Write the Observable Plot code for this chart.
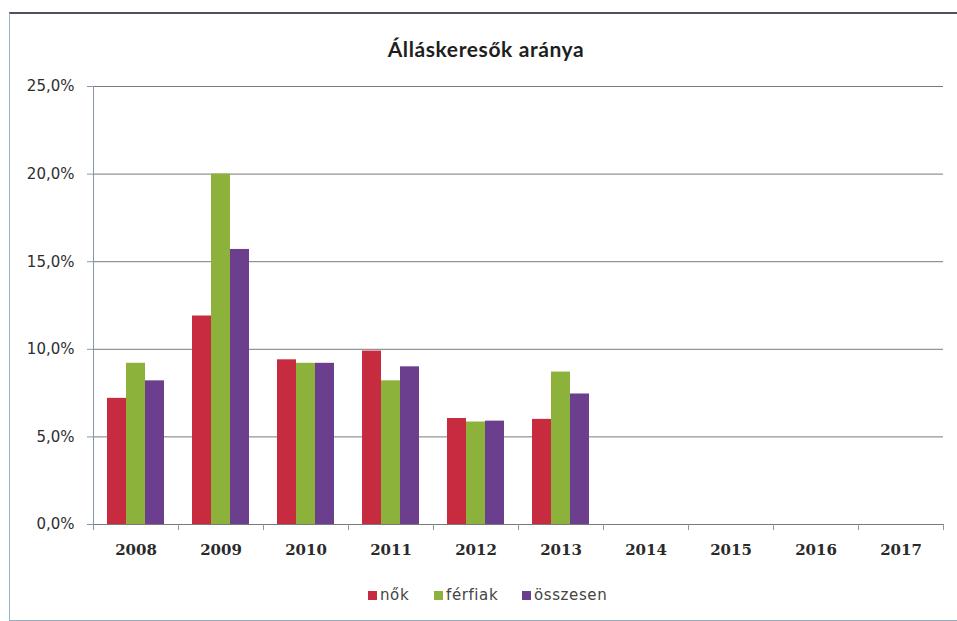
<!DOCTYPE html>
<html><head><meta charset="utf-8">
<script src="https://cdn.jsdelivr.net/npm/d3@7"></script>
<script src="https://cdn.jsdelivr.net/npm/@observablehq/plot@0.6"></script>
<style>
body{margin:0;background:#fff;width:957px;height:621px;position:relative;overflow:hidden;}
#box{position:absolute;left:9px;top:12px;width:960px;height:606px;border-top:2px solid #4d525c;border-left:1px solid #8fb4d8;border-bottom:1px solid #9aaabb;}
#title{position:absolute;left:0;top:36px;width:972px;text-align:center;font:bold 21px Lato, sans-serif;color:#1e1e1e;letter-spacing:0.6px;}
#chart{position:absolute;left:0;top:70px;}
#legend{position:absolute;top:585px;left:0;width:957px;height:20px;font:15px "DejaVu Sans", sans-serif;color:#444;letter-spacing:0.6px;}
#legend .it{position:absolute;top:0;display:flex;align-items:center;height:20px;}
#legend .it:nth-child(1){left:368px;}
#legend .it:nth-child(2){left:434px;}
#legend .it:nth-child(3){left:522px;}
#legend .sw{width:9px;height:9px;margin-right:3px;}
</style></head>
<body>
<div id="box"></div>
<div id="title">Álláskeresők aránya</div>
<div id="chart"></div>
<div id="legend"></div>
<script>
const years = ["2008","2009","2010","2011","2012","2013","2014","2015","2016","2017"];
const series = ["nők","férfiak","összesen"];
const nok      = [7.2, 11.9, 9.4, 9.9, 6.05, 6.0];
const ferfiak  = [9.2, 20.0, 9.2, 8.2, 5.85, 8.7];
const osszesen = [8.2, 15.7, 9.2, 9.0, 5.9, 7.45];
const colors = ["#c62b40", "#8db23c", "#6b3f8d"];
const yTicks = [0, 5, 10, 15, 20, 25];

const valuesBySeries = [nok, ferfiak, osszesen];
const rows = [];
valuesBySeries.forEach((vals, j) => vals.forEach((v, i) => rows.push({year: years[i], series: series[j], value: v})));
// grid lines repeated in every year's facet (so empty years still show)
const gridRows = years.flatMap(yr => yTicks.map(t => ({year: yr, tick: t})));

const fmt = d => d.toFixed(1).replace(".", ",") + "%";

const chart = Plot.plot({
  width: 957, height: 505,
  marginTop: 16, marginBottom: 51, marginLeft: 93, marginRight: 14,
  style: {fontFamily: "DejaVu Sans", fontSize: "15px", color: "#333", background: "transparent"},
  fx: {domain: years, padding: 0, label: null},
  x: {domain: series, paddingInner: 0, paddingOuter: 0.72, axis: null},
  y: {domain: [0, 25], label: null},
  color: {domain: series, range: colors},
  marks: [
    Plot.ruleY(gridRows, {fx: "year", y: "tick", stroke: "#7a7a7a", strokeWidth: 1}),
    Plot.frame({anchor: "left", insetTop: 438, insetBottom: -5, stroke: "#8a96a8"}),
    Plot.barY(rows, {fx: "year", x: "series", y: "value", fill: "series"}),
    Plot.axisY({ticks: yTicks, tickFormat: fmt, tickSize: 6, tickPadding: 13, stroke: "#8a96a8", fill: "#2e2e2e", fontSize: 15, label: null}),
    Plot.axisFx({anchor: "bottom", tickSize: 0, tickPadding: 20, fontSize: 15, fontFamily: "DejaVu Serif", fontWeight: "bold", fill: "#2a2a2a", label: null}),
    Plot.frame({anchor: "left", facet: "super", stroke: "#8a96a8"}),
    Plot.frame({anchor: "right", facet: "super", insetTop: 438, insetBottom: -5, stroke: "#8a96a8"})
  ]
});
document.getElementById("chart").appendChild(chart);

const legend = document.getElementById("legend");
series.forEach((s, j) => {
  const it = document.createElement("div");
  it.className = "it";
  it.innerHTML = `<span class="sw" style="background:${colors[j]}"></span><span>${s}</span>`;
  legend.appendChild(it);
});
</script>
</body></html>
